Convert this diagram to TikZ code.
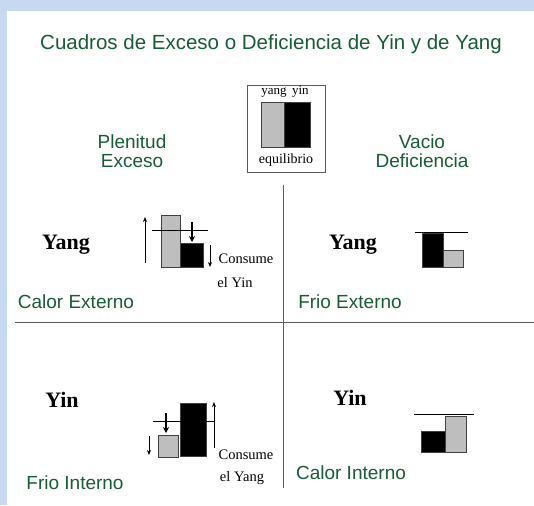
\documentclass[tikz,border=0pt]{standalone}
\usepackage{fontspec}
\setmainfont{Liberation Serif}
\setsansfont{Liberation Sans}
\usetikzlibrary{arrows.meta}
\definecolor{fondo}{RGB}{198,217,241}
\definecolor{verde}{RGB}{24,92,54}
\definecolor{gris}{RGB}{190,190,190}
\definecolor{linea}{RGB}{90,90,90}

\tikzset{
  titulo/.style={text=verde, font=\sffamily\fontsize{19}{18.5}\selectfont, align=center, inner sep=0pt},
  etiq/.style={font=\bfseries\fontsize{22}{24}\selectfont, inner sep=0pt},
  nota/.style={font=\fontsize{14.5}{16}\selectfont, inner sep=0pt},
  barra/.style={draw=black!75, line width=0.8pt},
  flecha/.style={-{Stealth[length=5pt,width=4pt]}, line width=0.8pt},
  gruesa/.style={-{Stealth[length=6pt,width=6pt]}, line width=2pt},
}

\begin{document}
\begin{tikzpicture}[x=1pt, y=-1pt]
  \useasboundingbox (0,0) rectangle (534,505);
  \fill[fondo] (0,0) rectangle (534,505);
  \fill[white] (7,11) rectangle (534,505);

  % titulo y encabezados
  \node[titulo, font=\sffamily\fontsize{20.5}{24}\selectfont] (T) at (271,44) {Cuadros de Exceso o Deficiencia de Yin y de Yang};
  \node[titulo] (PE) at (132,151) {Plenitud\\Exceso};
  \node[titulo] (VD) at (422,151) {Vacio\\Deficiencia};

  % equilibrio
  \draw[linea, line width=0.8pt] (247,85) rectangle (325,172);
  \draw[barra, fill=gris] (261,102) rectangle (284,147);
  \draw[barra, fill=black] (284,102) rectangle (310,147);
  \node[nota, font=\fontsize{13}{14}\selectfont] (YY) at (285,92) {yang\, yin};
  \node[nota, font=\fontsize{14}{16}\selectfont] (EQ) at (286,160) {equilibrio};

  % cuadrantes
  \draw[linea, line width=1pt] (283,185) -- (283,488);
  \draw[linea, line width=1pt] (15,322) -- (534,322);

  % calor externo
  \node[etiq] (YangA) at (66,245) {Yang};
  \draw[flecha] (145,263) -- (145,217);
  \draw[barra, fill=gris] (161,215) rectangle (180,267);
  \draw[barra, fill=black] (180,243) rectangle (203,267);
  \draw[line width=0.8pt] (152,230) -- (208,230);
  \draw[gruesa] (192,222) -- (192,242);
  \draw[flecha] (210,245) -- (210,267);
  \node[nota] (C1) at (246,259) {Consume};
  \node[nota] (C2) at (235,283) {el Yin};
  \node[titulo] (CE) at (76,302) {Calor Externo};

  % frio externo
  \node[etiq] (YangB) at (353,245) {Yang};
  \draw[barra, fill=black] (422,233) rectangle (443,267);
  \draw[barra, fill=gris] (443,250) rectangle (463,267);
  \draw[line width=0.8pt] (415,232) -- (468,232);
  \node[titulo] (FE) at (350,302) {Frio Externo};

  % frio interno
  \node[etiq] (YinA) at (62,400) {Yin};
  \draw[barra, fill=gris] (158,435) rectangle (178,457);
  \draw[barra, fill=black] (180,403) rectangle (206,456);
  \draw[line width=0.8pt] (153,421) -- (214,421);
  \draw[flecha] (214,448) -- (214,402);
  \draw[gruesa] (166,413) -- (166,433);
  \draw[flecha] (149,436) -- (149,455);
  \node[nota] (C3) at (246,455) {Consume};
  \node[nota] (C4) at (242,478) {el Yang};
  \node[titulo] (FI) at (75,483) {Frio Interno};

  % calor interno
  \node[etiq] (YinB) at (350,398) {Yin};
  \draw[barra, fill=black] (421,431) rectangle (445,452);
  \draw[barra, fill=gris] (445,416) rectangle (466,452);
  \draw[line width=0.8pt] (414,414) -- (474,414);
  \node[titulo] (CI) at (351,473) {Calor Interno};
\end{tikzpicture}
\end{document}
